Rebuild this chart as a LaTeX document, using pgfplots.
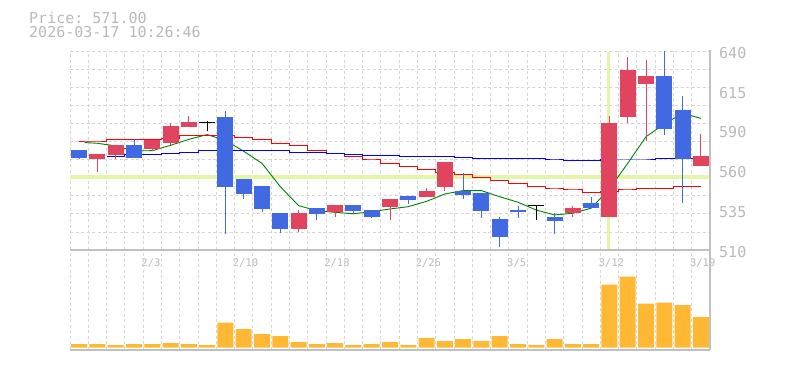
\documentclass[border=0pt]{standalone}
\usepackage{fontspec}
\setmonofont{DejaVu Sans Mono}
\usepackage{pgfplots}
\pgfplotsset{compat=1.18}
\usepackage{pgfplotstable}

\definecolor{cred}{RGB}{225,68,95}
\definecolor{cblue}{RGB}{65,105,225}
\definecolor{cvol}{RGB}{255,184,52}
\definecolor{cgrid}{RGB}{214,214,214}
\definecolor{caxis}{RGB}{192,192,192}
\definecolor{ctext}{RGB}{185,185,185}
\definecolor{cband}{RGB}{226,246,166}
\definecolor{cma}{RGB}{0,128,0}

% up candles (red): x open high low close
\pgfplotstableread{
x o h l c
1.5 569.3 572.7 561.2 572.7
2.5 572.1 578.6 569.3 578.6
4.5 576.2 581.9 574.7 581.9
5.5 580.1 593.2 578.6 591.0
6.5 590.6 597.5 590.6 593.8
12.5 524.0 536.1 522.0 534.2
14.5 534.8 539.4 531.8 539.4
17.5 538.3 543.3 529.6 543.3
19.5 544.8 550.7 544.8 548.6
20.5 551.4 567.5 548.8 567.5
27.5 534.0 538.8 531.4 537.5
29.5 531.8 597.5 531.8 593.2
30.5 597.1 636.3 592.8 627.6
31.5 618.6 634.1 581.4 623.7
34.5 565.1 585.6 565.1 571.4
}\redc

% down candles (blue)
\pgfplotstableread{
x o h l c
0.5 575.3 575.3 569.3 570.3
3.5 578.6 582.5 570.3 570.3
8.5 596.9 600.8 520.3 551.4
9.5 556.4 556.4 543.1 546.8
10.5 551.8 551.8 535.0 537.0
11.5 534.2 534.2 520.9 524.0
13.5 537.5 537.5 529.6 533.7
15.5 539.4 539.4 533.3 535.5
16.5 536.1 536.1 531.1 531.8
18.5 545.5 545.5 540.1 542.9
21.5 548.6 560.5 543.1 545.9
22.5 547.1 547.1 531.1 535.7
23.5 530.3 531.8 512.2 518.7
24.5 536.1 539.0 531.1 534.8
26.5 531.8 534.0 520.3 529.2
28.5 540.7 544.8 537.3 537.3
32.5 623.7 640.0 585.3 589.2
33.5 601.5 610.6 540.5 569.3
}\bluec

% doji (black)
\pgfplotstableread{
x o h l c
7.5 593.2 594.0 588.0 593.2
25.5 538.8 538.8 529.6 538.8
}\dojic

\pgfplotstableread{
x y
0.8 580.2
1.5 579.7
2.5 578.0
3.5 574.7
4.5 574.9
5.5 578.4
6.5 582.3
7.5 585.4
8.5 581.6
9.5 574.5
10.5 566.6
11.5 551.4
12.5 539.0
13.5 535.7
14.5 534.6
15.5 533.7
16.5 535.0
17.5 536.8
18.5 538.3
19.5 541.8
20.5 546.6
21.5 548.8
22.5 548.8
23.5 544.8
24.5 541.2
25.5 536.1
26.5 532.9
27.5 534.0
28.5 537.3
29.5 550.0
30.5 566.6
31.5 584.0
32.5 592.3
33.5 599.3
34.5 596.0
}\maS

\pgfplotstableread{
x y
0.5 581.2
1.5 581.2
2.5 581.9
3.5 581.9
4.5 582.2
5.5 583.0
6.5 585.1
7.5 585.1
8.5 584.7
9.5 583.4
10.5 581.9
11.5 579.7
12.5 578.0
13.5 575.3
14.5 573.2
15.5 571.0
16.5 568.8
17.5 566.6
18.5 564.4
19.5 562.7
20.5 560.8
21.5 559.5
22.5 557.5
23.5 555.7
24.5 553.6
25.5 551.8
26.5 550.5
27.5 549.2
28.5 547.8
29.5 548.1
30.5 549.2
31.5 550.3
32.5 550.3
33.5 551.4
34.5 551.4
}\maM

\pgfplotstableread{
x y
2.0 571.0
2.5 571.0
3.5 572.5
4.5 572.5
5.5 573.2
6.5 573.8
7.5 575.3
8.5 575.3
9.5 575.3
10.5 575.3
11.5 574.9
12.5 573.8
13.5 573.8
14.5 573.2
15.5 572.5
16.5 571.9
17.5 571.9
18.5 571.0
19.5 571.0
20.5 571.0
21.5 570.6
22.5 569.9
23.5 569.9
24.5 569.5
25.5 569.5
26.5 568.8
27.5 568.2
28.5 568.2
29.5 568.8
30.5 568.8
31.5 568.8
32.5 569.9
33.5 569.6
34.5 569.5
}\maL

\pgfplotstableread{
x v
0.5 3.7
1.5 3.7
2.5 2.7
3.5 3.7
4.5 3.7
5.5 4.7
6.5 3.7
7.5 2.7
8.5 25.0
9.5 18.7
10.5 13.7
11.5 11.7
12.5 5.7
13.5 3.7
14.5 4.7
15.5 2.7
16.5 3.7
17.5 5.7
18.5 2.7
19.5 9.7
20.5 6.7
21.5 8.7
22.5 6.7
23.5 11.7
24.5 3.7
25.5 2.7
26.5 8.7
27.5 3.7
28.5 3.7
29.5 63.0
30.5 71.0
31.5 44.0
32.5 45.0
33.5 42.7
34.5 30.7
}\vol

\begin{document}
\begin{tikzpicture}
\path[use as bounding box] (0,0) rectangle (785bp,370bp);

\node[anchor=base west, inner sep=0pt, text=ctext, font=\ttfamily\fontsize{15bp}{15bp}\selectfont] at (29bp,346.7bp) {Price: 571.00};
\node[anchor=base west, inner sep=0pt, text=ctext, font=\ttfamily\fontsize{15bp}{15bp}\selectfont] at (29bp,332.3bp) {2026-03-17 10:26:46};

\begin{axis}[
  at={(70bp,120bp)}, anchor=south west,
  width=640bp, height=199bp, scale only axis,
  xmin=0, xmax=35, ymin=510, ymax=640,
  clip=false,
  axis line style={draw=none},
  xtick={0,1,...,35}, xticklabels={},
  ytick={510,521.818,533.636,545.455,557.273,569.091,580.909,592.727,604.545,616.364,628.182,640},
  yticklabels={},
  major tick length=0pt,
  grid=major,
  major grid style={cgrid, dash pattern=on 3bp off 2.5bp, line width=0.8bp},
  yticklabel pos=right,
  extra y ticks={510,536,562,588,614,640},
  extra y tick labels={510,535,560,590,615,640},
  extra y tick style={grid=none, major tick length=0pt,
    yticklabel style={font=\ttfamily\fontsize{15bp}{15bp}\selectfont, text=ctext, anchor=base west, inner sep=0pt, xshift=9bp, yshift=-7.3bp}},
  extra x ticks={4.5,9.5,14.5,19.5,24.5,29.5,34.5},
  extra x tick labels={2/3,2/10,2/18,2/26,3/5,3/12,3/19},
  extra x tick style={grid=none, major tick length=0pt,
    xticklabel style={font=\ttfamily\fontsize{10.5bp}{10.5bp}\selectfont, text=ctext, anchor=base west, inner sep=0pt, xshift=-11bp, yshift=-16.5bp}},
]
% reference bands
\addplot[cband, line width=3.8bp, forget plot] coordinates {(0,557.8) (35,557.8)};
\addplot[cband, line width=3.5bp, forget plot] coordinates {(29.45,510.6) (29.45,639.6)};
% moving averages
\addplot[cma, line width=0.9bp, mark=none] table[x=x,y=y] {\maS};
\addplot[red, line width=1bp, mark=none, const plot mark mid] table[x=x,y=y] {\maM};
\addplot[blue, line width=1bp, mark=none, const plot mark mid] table[x=x,y=y] {\maL};
% wicks
\addplot[draw=none, mark=none, forget plot, error bars/.cd, y dir=plus, y explicit, error mark=none, error bar style={draw=cred, line width=1bp}]
  table[x=x, y=l, y error plus expr=\thisrow{h}-\thisrow{l}] {\redc};
\addplot[draw=none, mark=none, forget plot, error bars/.cd, y dir=plus, y explicit, error mark=none, error bar style={draw=cblue, line width=1bp}]
  table[x=x, y=l, y error plus expr=\thisrow{h}-\thisrow{l}] {\bluec};
\addplot[draw=none, mark=none, forget plot, error bars/.cd, y dir=plus, y explicit, error mark=none, error bar style={draw=black, line width=1bp}]
  table[x=x, y=l, y error plus expr=\thisrow{h}-\thisrow{l}] {\dojic};
% bodies
\addplot[draw=none, mark=none, forget plot, error bars/.cd, y dir=plus, y explicit, error mark=none, error bar style={draw=cred, line width=16bp}]
  table[x=x, y=o, y error plus expr=\thisrow{c}-\thisrow{o}] {\redc};
\addplot[draw=none, mark=none, forget plot, error bars/.cd, y dir=plus, y explicit, error mark=none, error bar style={draw=cblue, line width=16bp}]
  table[x=x, y=c, y error plus expr=\thisrow{o}-\thisrow{c}] {\bluec};
\addplot[draw=none, mark=none, forget plot, error bars/.cd, x dir=both, x fixed=0.4375, error mark=none, error bar style={draw=black, line width=1.1bp}]
  table[x=x, y=o] {\dojic};
\end{axis}

\begin{axis}[
  at={(70bp,20bp)}, anchor=south west,
  width=640bp, height=100bp, scale only axis,
  xmin=0, xmax=35, ymin=-2.3, ymax=97.7,
  axis line style={draw=none},
  xtick={0,1,...,35}, xticklabels={},
  ytick=\empty,
  major tick length=0pt,
  xmajorgrids,
  major grid style={cgrid, dash pattern=on 3bp off 2.5bp, line width=0.8bp},
]
\addplot[ybar, bar width=16bp, fill=cvol, draw=none] table[x=x,y=v] {\vol};
\end{axis}

\draw[caxis, line width=1.1bp] (70bp,120bp) -- (710bp,120bp);
\draw[caxis, line width=1.1bp] (70bp,20bp) -- (710bp,20bp);
\draw[caxis, line width=1.1bp] (710bp,20bp) -- (710bp,319.5bp);
\end{tikzpicture}
\end{document}
